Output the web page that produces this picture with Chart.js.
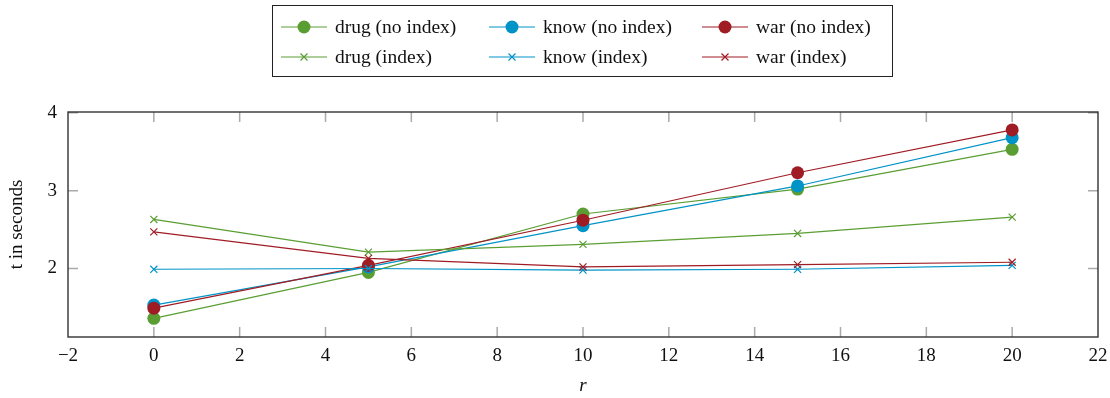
<!DOCTYPE html>
<html>
<head>
<meta charset="utf-8">
<script src="https://cdn.jsdelivr.net/npm/chart.js@4.4.1/dist/chart.umd.min.js"></script>
<style>
  html, body { margin: 0; padding: 0; background: #fff; }
  #wrap { position: relative; width: 1110px; height: 398px; }
  #chart { position: absolute; left: 0; top: 0; }
  #legend {
    position: absolute; left: 272px; top: 5px; width: 621px; height: 72px;
    border: 1px solid #222; box-sizing: border-box;
    font-family: "Liberation Serif", "Times New Roman", serif; font-size: 19.5px; color: #111;
  }
  .entry { position: absolute; display: flex; align-items: center; height: 22px; white-space: nowrap; }
  .entry svg { margin-right: 8px; }
</style>
</head>
<body>
<div id="wrap">
  <canvas id="chart" width="1110" height="398"></canvas>
  <div id="legend"></div>
</div>
<script>
// ---- data ----
const rValues      = [0, 5, 10, 15, 20];
const drugNoIndex  = [1.36, 1.95, 2.70, 3.02, 3.53];
const knowNoIndex  = [1.53, 2.02, 2.55, 3.06, 3.68];
const warNoIndex   = [1.49, 2.04, 2.62, 3.23, 3.78];
const drugIndex    = [2.63, 2.21, 2.31, 2.45, 2.66];
const knowIndex    = [1.99, 2.00, 1.98, 1.99, 2.04];
const warIndex     = [2.47, 2.13, 2.02, 2.05, 2.08];
const seriesLabels = ["drug (no index)", "know (no index)", "war (no index)",
                      "drug (index)", "know (index)", "war (index)"];
const yTickValues  = [2, 3, 4];
const xTitle = "r";
const yTitle = "t in seconds";

const GREEN = "#5a9e33", BLUE = "#0093c8", RED = "#a01c24";
const colors = [GREEN, BLUE, RED, GREEN, BLUE, RED];
const values = [drugNoIndex, knowNoIndex, warNoIndex, drugIndex, knowIndex, warIndex];
const FONT = "'Liberation Serif', 'Times New Roman', serif";
const FS = 19;

const datasets = values.map((vals, i) => {
  const filled = i < 3;
  return {
    label: seriesLabels[i],
    data: rValues.map((r, k) => ({ x: r, y: vals[k] })),
    borderColor: colors[i],
    backgroundColor: colors[i],
    borderWidth: 1.2,
    pointStyle: filled ? 'circle' : 'crossRot',
    pointRadius: filled ? 6.5 : 5,
    pointBorderWidth: filled ? 0 : 1.2,
    pointBorderColor: colors[i],
    pointBackgroundColor: colors[i],
    tension: 0,
    order: 6 - i
  };
});

const framePlugin = {
  id: 'frame',
  beforeDatasetsDraw(chart) {
    const { ctx, chartArea: a, scales } = chart;
    ctx.save();
    ctx.strokeStyle = '#aaaaaa';
    ctx.lineWidth = 1.5;
    const TL = 10;
    scales.x.ticks.forEach(t => {
      if (t.value <= scales.x.min || t.value >= scales.x.max) return;
      const px = scales.x.getPixelForValue(t.value);
      ctx.beginPath();
      ctx.moveTo(px, a.bottom); ctx.lineTo(px, a.bottom - TL);
      ctx.moveTo(px, a.top); ctx.lineTo(px, a.top + TL);
      ctx.stroke();
    });
    scales.y.ticks.forEach(t => {
      const py = scales.y.getPixelForValue(t.value);
      ctx.beginPath();
      ctx.moveTo(a.left, py); ctx.lineTo(a.left + TL, py);
      ctx.moveTo(a.right, py); ctx.lineTo(a.right - TL, py);
      ctx.stroke();
    });
    ctx.strokeStyle = '#333';
    ctx.lineWidth = 1.4;
    ctx.strokeRect(a.left, a.top, a.right - a.left, a.bottom - a.top);
    ctx.restore();
  }
};

new Chart(document.getElementById('chart'), {
  type: 'line',
  data: { datasets },
  options: {
    responsive: false,
    animation: false,
    layout: { padding: { left: 0, right: 12, top: 112, bottom: 0 } },
    plugins: { legend: { display: false }, tooltip: { enabled: false } },
    scales: {
      x: {
        type: 'linear', min: -2, max: 22,
        grid: { display: false, drawTicks: false },
        border: { display: false },
        ticks: {
          stepSize: 2, padding: 8, color: '#111', maxRotation: 0,
          font: { family: FONT, size: FS },
          callback: v => (v < 0 ? '\u2212' + Math.abs(v) : String(v))
        },
        title: { display: true, text: xTitle, color: '#111',
                 font: { family: FONT, size: FS, style: 'italic' },
                 padding: { top: 0, bottom: 1 } },
        afterFit(s) { s.height = 61; s.paddingLeft = 0; s.paddingRight = 0; }
      },
      y: {
        type: 'linear', min: 1.12, max: 4.01,
        grid: { display: false, drawTicks: false },
        border: { display: false },
        afterBuildTicks(s) { s.ticks = yTickValues.map(v => ({ value: v })); },
        ticks: { padding: 11, color: '#111', font: { family: FONT, size: FS },
                 callback: v => String(v) },
        title: { display: true, text: yTitle, color: '#111',
                 font: { family: FONT, size: FS },
                 padding: { top: 6, bottom: 0 } },
        afterFit(s) { s.width = 68; s.paddingTop = 0; s.paddingBottom = 0; }
      }
    }
  },
  plugins: [framePlugin]
});

// ---- HTML legend ----
const legend = document.getElementById('legend');
const colX = [8, 216, 429];
const rowY = [10, 40];
seriesLabels.forEach((lab, i) => {
  const col = i % 3, row = Math.floor(i / 3);
  const filled = i < 3;
  const c = colors[i];
  const marker = filled
    ? `<circle cx="23" cy="11" r="6.5" fill="${c}"/>`
    : `<path d="M19.5 7.5 L26.5 14.5 M26.5 7.5 L19.5 14.5" stroke="${c}" stroke-width="1.2"/>`;
  const e = document.createElement('div');
  e.className = 'entry';
  e.style.left = colX[col] + 'px';
  e.style.top = rowY[row] + 'px';
  e.innerHTML = `<svg width="46" height="22"><line x1="0" y1="11" x2="46" y2="11" stroke="${c}" stroke-width="1.2"/>${marker}</svg><span>${lab}</span>`;
  legend.appendChild(e);
});
</script>
</body>
</html>
